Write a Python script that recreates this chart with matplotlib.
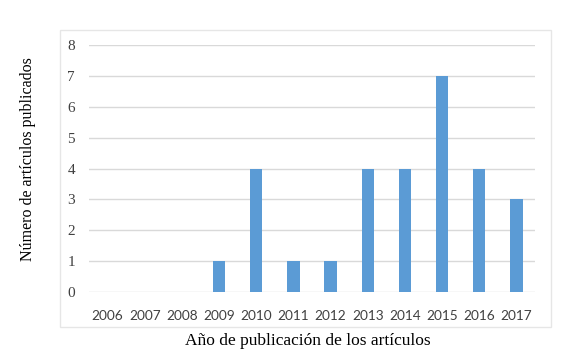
import matplotlib
matplotlib.use("Agg")
import matplotlib.pyplot as plt
from matplotlib.patches import Rectangle

years = ["2006", "2007", "2008", "2009", "2010", "2011",
         "2012", "2013", "2014", "2015", "2016", "2017"]
articles = [0, 0, 0, 1, 4, 1, 1, 4, 4, 7, 4, 3]

W, H = 572, 364
fig = plt.figure(figsize=(W / 100, H / 100), dpi=100)
plt.rcParams['font.family'] = ['Liberation Serif', 'DejaVu Serif']

# outer chart frame
fig.patches.append(Rectangle((60 / W, 1 - 327 / H), 491 / W, 297 / H,
                             transform=fig.transFigure, fill=False,
                             edgecolor='#e6e6e6', linewidth=1))

ax = fig.add_axes([89 / W, 72 / H, 446 / W, 247 / H])
ax.bar(range(len(years)), articles, width=0.33, color='#5b9bd5', zorder=3)
ax.set_xlim(-0.5, len(years) - 0.5)
ax.set_ylim(0, 8)
ax.set_yticks(range(9))
ax.set_xticks(range(len(years)))
ax.set_xticklabels(years, family='Lato', fontsize=9.8)
ax.grid(axis='y', color='#d9d9d9', linewidth=1, zorder=0)
for s in ax.spines.values():
    s.set_visible(False)
ax.tick_params(length=0, colors='#404040')
ax.tick_params(axis='x', pad=13)
ax.tick_params(axis='y', pad=10, labelsize=11)

fig.text(308 / W, 1 - 341 / H, "Año de publicación de los artículos",
         ha='center', va='center', fontsize=12.5)
fig.text(28 / W, 1 - 159 / H, "Número de artículos publicados",
         ha='center', va='center', rotation=90, fontsize=11.5)

fig.savefig("out.png", dpi=100)
